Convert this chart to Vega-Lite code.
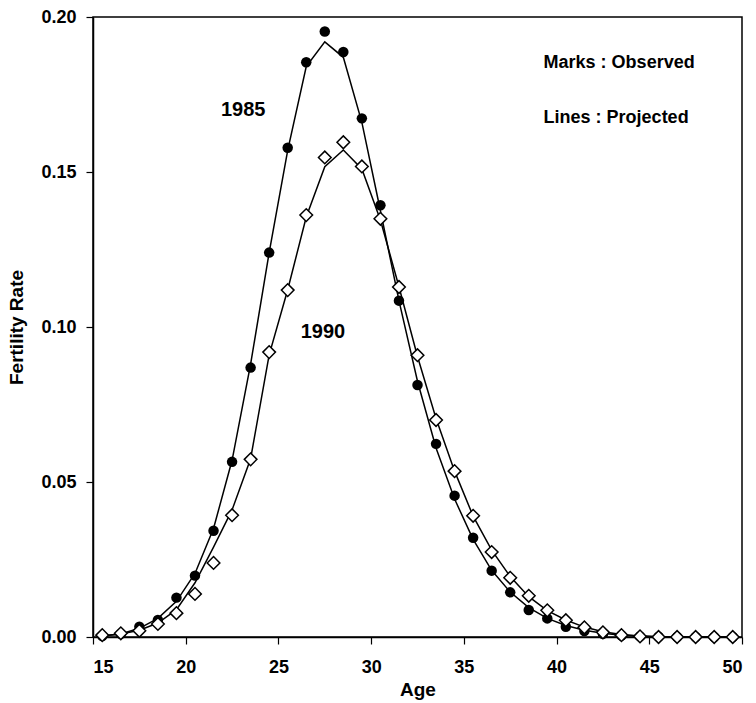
{
  "$schema": "https://vega.github.io/schema/vega-lite/v6.json",
  "autosize": "none",
  "width": 649,
  "height": 620,
  "padding": {"left": 93, "top": 17, "right": 14, "bottom": 66},
  "background": "white",
  "config": {
    "font": "Liberation Sans",
    "view": {"stroke": "black", "strokeWidth": 1.5},
    "axis": {
      "grid": false,
      "domainColor": "black",
      "domainWidth": 1.5,
      "tickColor": "black",
      "tickWidth": 1.2,
      "tickSize": 7,
      "labelFont": "Liberation Sans",
      "labelFontWeight": "bold",
      "labelFontSize": 18,
      "labelColor": "black",
      "titleFont": "Liberation Sans",
      "titleFontWeight": "bold",
      "titleFontSize": 19,
      "titleColor": "black"
    }
  },
  "datasets": {
    "rates": [
      {"age": 15.5, "year": "1985", "observed": 0.0003, "projected": 0.0003},
      {"age": 16.5, "year": "1985", "observed": 0.001, "projected": 0.001},
      {"age": 17.5, "year": "1985", "observed": 0.0033, "projected": 0.0028},
      {"age": 18.5, "year": "1985", "observed": 0.0055, "projected": 0.006},
      {"age": 19.5, "year": "1985", "observed": 0.0127, "projected": 0.0115},
      {"age": 20.5, "year": "1985", "observed": 0.0198, "projected": 0.0205},
      {"age": 21.5, "year": "1985", "observed": 0.0343, "projected": 0.035},
      {"age": 22.5, "year": "1985", "observed": 0.0565, "projected": 0.057},
      {"age": 23.5, "year": "1985", "observed": 0.0869, "projected": 0.088},
      {"age": 24.5, "year": "1985", "observed": 0.124, "projected": 0.124},
      {"age": 25.5, "year": "1985", "observed": 0.1578, "projected": 0.157},
      {"age": 26.5, "year": "1985", "observed": 0.1854, "projected": 0.184},
      {"age": 27.5, "year": "1985", "observed": 0.1953, "projected": 0.192},
      {"age": 28.5, "year": "1985", "observed": 0.1887, "projected": 0.187},
      {"age": 29.5, "year": "1985", "observed": 0.1673, "projected": 0.166},
      {"age": 30.5, "year": "1985", "observed": 0.1393, "projected": 0.1375},
      {"age": 31.5, "year": "1985", "observed": 0.1085, "projected": 0.1085},
      {"age": 32.5, "year": "1985", "observed": 0.0813, "projected": 0.0825},
      {"age": 33.5, "year": "1985", "observed": 0.0623, "projected": 0.061},
      {"age": 34.5, "year": "1985", "observed": 0.0456, "projected": 0.0445},
      {"age": 35.5, "year": "1985", "observed": 0.032, "projected": 0.0315},
      {"age": 36.5, "year": "1985", "observed": 0.0214, "projected": 0.0215},
      {"age": 37.5, "year": "1985", "observed": 0.0144, "projected": 0.0145},
      {"age": 38.5, "year": "1985", "observed": 0.0087, "projected": 0.0095},
      {"age": 39.5, "year": "1985", "observed": 0.006, "projected": 0.006},
      {"age": 40.5, "year": "1985", "observed": 0.0033, "projected": 0.0037},
      {"age": 41.5, "year": "1985", "observed": 0.0019, "projected": 0.0022},
      {"age": 42.5, "year": "1985", "observed": 0.001, "projected": 0.0012},
      {"age": 43.5, "year": "1985", "observed": 0.0005, "projected": 0.0006},
      {"age": 44.5, "year": "1985", "observed": 0.0002, "projected": 0.0003},
      {"age": 45.5, "year": "1985", "observed": 0.0001, "projected": 0.0001},
      {"age": 46.5, "year": "1985", "observed": 0.0, "projected": 0.0},
      {"age": 47.5, "year": "1985", "observed": 0.0, "projected": 0.0},
      {"age": 48.5, "year": "1985", "observed": 0.0, "projected": 0.0},
      {"age": 49.5, "year": "1985", "observed": 0.0, "projected": 0.0},
      {"age": 15.5, "year": "1990", "observed": 0.0006, "projected": 0.0004},
      {"age": 16.5, "year": "1990", "observed": 0.0012, "projected": 0.001},
      {"age": 17.5, "year": "1990", "observed": 0.002, "projected": 0.0022},
      {"age": 18.5, "year": "1990", "observed": 0.0042, "projected": 0.0045},
      {"age": 19.5, "year": "1990", "observed": 0.0077, "projected": 0.0088},
      {"age": 20.5, "year": "1990", "observed": 0.0139, "projected": 0.0175},
      {"age": 21.5, "year": "1990", "observed": 0.0239, "projected": 0.029},
      {"age": 22.5, "year": "1990", "observed": 0.0393, "projected": 0.041},
      {"age": 23.5, "year": "1990", "observed": 0.0573, "projected": 0.0575},
      {"age": 24.5, "year": "1990", "observed": 0.0919, "projected": 0.091},
      {"age": 25.5, "year": "1990", "observed": 0.1119, "projected": 0.112},
      {"age": 26.5, "year": "1990", "observed": 0.1361, "projected": 0.1355},
      {"age": 27.5, "year": "1990", "observed": 0.1547, "projected": 0.1517},
      {"age": 28.5, "year": "1990", "observed": 0.1596, "projected": 0.1571},
      {"age": 29.5, "year": "1990", "observed": 0.1518, "projected": 0.151},
      {"age": 30.5, "year": "1990", "observed": 0.1349, "projected": 0.1345},
      {"age": 31.5, "year": "1990", "observed": 0.1129, "projected": 0.113},
      {"age": 32.5, "year": "1990", "observed": 0.0909, "projected": 0.0905},
      {"age": 33.5, "year": "1990", "observed": 0.07, "projected": 0.0705},
      {"age": 34.5, "year": "1990", "observed": 0.0535, "projected": 0.0535},
      {"age": 35.5, "year": "1990", "observed": 0.0391, "projected": 0.039},
      {"age": 36.5, "year": "1990", "observed": 0.0274, "projected": 0.028},
      {"age": 37.5, "year": "1990", "observed": 0.0191, "projected": 0.0195},
      {"age": 38.5, "year": "1990", "observed": 0.0133, "projected": 0.013},
      {"age": 39.5, "year": "1990", "observed": 0.0086, "projected": 0.0085},
      {"age": 40.5, "year": "1990", "observed": 0.0054, "projected": 0.0055},
      {"age": 41.5, "year": "1990", "observed": 0.0031, "projected": 0.0032},
      {"age": 42.5, "year": "1990", "observed": 0.0015, "projected": 0.0017},
      {"age": 43.5, "year": "1990", "observed": 0.0006, "projected": 0.0008},
      {"age": 44.5, "year": "1990", "observed": 0.0002, "projected": 0.0003},
      {"age": 45.5, "year": "1990", "observed": 0.0, "projected": 0.0001},
      {"age": 46.5, "year": "1990", "observed": 0.0, "projected": 0.0},
      {"age": 47.5, "year": "1990", "observed": 0.0, "projected": 0.0},
      {"age": 48.5, "year": "1990", "observed": 0.0, "projected": 0.0},
      {"age": 49.5, "year": "1990", "observed": 0.0, "projected": 0.0}
    ],
    "notes": [
      {"age": 23.1, "rate": 0.170, "label": "1985"},
      {"age": 27.4, "rate": 0.0985, "label": "1990"}
    ],
    "legendnotes": [
      {"age": 39.3, "rate": 0.1852, "label": "Marks : Observed"},
      {"age": 39.3, "rate": 0.1674, "label": "Lines : Projected"}
    ]
  },
  "layer": [
    {
      "data": {"name": "rates"},
      "mark": {"type": "line", "color": "black", "strokeWidth": 1.5},
      "encoding": {
        "x": {
          "field": "age", "type": "quantitative",
          "scale": {"domain": [15, 50], "nice": false, "zero": false},
          "axis": {"values": [15, 20, 25, 30, 35, 40, 45, 50], "title": "Age", "labelPadding": 14, "titlePadding": 4}
        },
        "y": {
          "field": "projected", "type": "quantitative",
          "scale": {"domain": [0, 0.2], "nice": false},
          "axis": {"values": [0, 0.05, 0.1, 0.15, 0.2], "format": ".2f", "title": "Fertility Rate", "labelPadding": 10, "titlePadding": 14}
        },
        "detail": {"field": "year"}
      }
    },
    {
      "data": {"name": "rates"},
      "transform": [{"filter": "datum.year === '1985'"}],
      "mark": {"type": "point", "shape": "circle", "filled": true, "color": "black", "size": 110, "opacity": 1},
      "encoding": {
        "x": {"field": "age", "type": "quantitative"},
        "y": {"field": "observed", "type": "quantitative"}
      }
    },
    {
      "data": {"name": "rates"},
      "transform": [{"filter": "datum.year === '1990'"}],
      "mark": {"type": "point", "shape": "diamond", "filled": true, "fill": "white", "stroke": "black", "strokeWidth": 1.5, "size": 160, "opacity": 1},
      "encoding": {
        "x": {"field": "age", "type": "quantitative"},
        "y": {"field": "observed", "type": "quantitative"}
      }
    },
    {
      "data": {"name": "notes"},
      "mark": {"type": "text", "font": "Liberation Sans", "fontWeight": "bold", "fontSize": 20, "color": "black", "align": "center", "baseline": "middle"},
      "encoding": {
        "x": {"field": "age", "type": "quantitative"},
        "y": {"field": "rate", "type": "quantitative"},
        "text": {"field": "label"}
      }
    },
    {
      "data": {"name": "legendnotes"},
      "mark": {"type": "text", "font": "Liberation Sans", "fontWeight": "bold", "fontSize": 18, "color": "black", "align": "left", "baseline": "middle"},
      "encoding": {
        "x": {"field": "age", "type": "quantitative"},
        "y": {"field": "rate", "type": "quantitative"},
        "text": {"field": "label"}
      }
    }
  ]
}
